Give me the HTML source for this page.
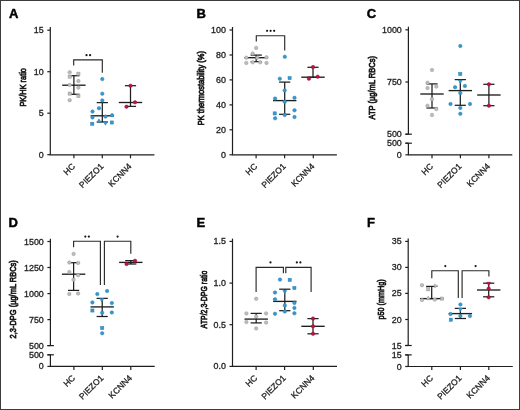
<!DOCTYPE html>
<html><head><meta charset="utf-8"><style>
html,body{margin:0;padding:0;background:#fff;}
#fig{position:relative;width:520px;height:410px;overflow:hidden;background:#fff;}
#fig svg{position:absolute;left:0;top:0;will-change:transform;}
#fig text{font-family:"Liberation Sans", sans-serif;}
</style></head><body>
<div id="fig">
<svg width="520" height="410" viewBox="0 0 520 410">
<rect x="0.5" y="0.5" width="519" height="409" fill="#fff" stroke="#3c3c3c" stroke-width="1"/>
<text x="9.00" y="18.40" font-size="13.0" text-anchor="start" font-weight="bold" fill="#000" stroke="#000" stroke-width="0.45" >A</text>
<line x1="50.30" y1="27.00" x2="50.30" y2="154.80" stroke="#1e1e1e" stroke-width="1.2"/>
<line x1="49.80" y1="154.80" x2="154.40" y2="154.80" stroke="#1e1e1e" stroke-width="1.2"/>
<line x1="47.30" y1="30.20" x2="50.30" y2="30.20" stroke="#1e1e1e" stroke-width="1.2"/>
<text x="43.70" y="33.25" font-size="8.9" text-anchor="end" font-weight="normal" fill="#222" stroke="#222" stroke-width="0.3" >15</text>
<line x1="47.30" y1="71.70" x2="50.30" y2="71.70" stroke="#1e1e1e" stroke-width="1.2"/>
<text x="43.70" y="74.75" font-size="8.9" text-anchor="end" font-weight="normal" fill="#222" stroke="#222" stroke-width="0.3" >10</text>
<line x1="47.30" y1="113.20" x2="50.30" y2="113.20" stroke="#1e1e1e" stroke-width="1.2"/>
<text x="43.70" y="116.25" font-size="8.9" text-anchor="end" font-weight="normal" fill="#222" stroke="#222" stroke-width="0.3" >5</text>
<line x1="47.30" y1="154.70" x2="50.30" y2="154.70" stroke="#1e1e1e" stroke-width="1.2"/>
<text x="43.70" y="157.75" font-size="8.9" text-anchor="end" font-weight="normal" fill="#222" stroke="#222" stroke-width="0.3" >0</text>
<line x1="73.90" y1="154.80" x2="73.90" y2="158.30" stroke="#1e1e1e" stroke-width="1.2"/>
<text x="75.60" y="167.00" font-size="8.5" text-anchor="end" font-weight="normal" fill="#222" stroke="#222" stroke-width="0.3" transform="rotate(-45 75.60 167.00)">HC</text>
<line x1="102.30" y1="154.80" x2="102.30" y2="158.30" stroke="#1e1e1e" stroke-width="1.2"/>
<text x="104.00" y="167.00" font-size="8.5" text-anchor="end" font-weight="normal" fill="#222" stroke="#222" stroke-width="0.3" transform="rotate(-45 104.00 167.00)">PIEZO1</text>
<line x1="130.50" y1="154.80" x2="130.50" y2="158.30" stroke="#1e1e1e" stroke-width="1.2"/>
<text x="132.20" y="167.00" font-size="8.5" text-anchor="end" font-weight="normal" fill="#222" stroke="#222" stroke-width="0.3" transform="rotate(-45 132.20 167.00)">KCNN4</text>
<text x="0" y="0" font-size="9.8" font-weight="normal" fill="#1a1a1a" stroke="#1a1a1a" stroke-width="0.75" text-anchor="middle" textLength="38.5" lengthAdjust="spacingAndGlyphs" transform="translate(26.30 87.30) rotate(-90)">PK/HK ratio</text>
<path d="M73.70,65.50 L73.70,59.90 L102.30,59.90 L102.30,72.80" fill="none" stroke="#2a2a2a" stroke-width="1.15"/>
<circle cx="86.52" cy="55.20" r="1.1" fill="#151515"/>
<circle cx="90.07" cy="55.20" r="1.1" fill="#151515"/>
<line x1="73.90" y1="75.70" x2="73.90" y2="94.30" stroke="#1e1e1e" stroke-width="1.25"/>
<line x1="68.30" y1="75.70" x2="79.50" y2="75.70" stroke="#1e1e1e" stroke-width="1.25"/>
<line x1="68.30" y1="94.30" x2="79.50" y2="94.30" stroke="#1e1e1e" stroke-width="1.25"/>
<line x1="62.20" y1="85.20" x2="85.60" y2="85.20" stroke="#1e1e1e" stroke-width="1.35"/>
<circle cx="69.70" cy="72.30" r="1.75" fill="#bdbdbd" stroke="#969696" stroke-width="0.5"/>
<rect x="76.83" y="72.12" width="3.15" height="3.15" fill="#bdbdbd" stroke="#969696" stroke-width="0.5"/>
<rect x="68.12" y="75.02" width="3.15" height="3.15" fill="#bdbdbd" stroke="#969696" stroke-width="0.5"/>
<circle cx="78.40" cy="81.00" r="1.75" fill="#bdbdbd" stroke="#969696" stroke-width="0.5"/>
<circle cx="69.70" cy="84.90" r="1.75" fill="#bdbdbd" stroke="#969696" stroke-width="0.5"/>
<circle cx="78.40" cy="87.60" r="1.75" fill="#bdbdbd" stroke="#969696" stroke-width="0.5"/>
<rect x="68.12" y="92.02" width="3.15" height="3.15" fill="#bdbdbd" stroke="#969696" stroke-width="0.5"/>
<rect x="76.83" y="94.42" width="3.15" height="3.15" fill="#bdbdbd" stroke="#969696" stroke-width="0.5"/>
<circle cx="69.70" cy="100.20" r="1.75" fill="#bdbdbd" stroke="#969696" stroke-width="0.5"/>
<line x1="102.30" y1="102.60" x2="102.30" y2="122.00" stroke="#1e1e1e" stroke-width="1.25"/>
<line x1="96.70" y1="102.60" x2="107.90" y2="102.60" stroke="#1e1e1e" stroke-width="1.25"/>
<line x1="96.70" y1="122.00" x2="107.90" y2="122.00" stroke="#1e1e1e" stroke-width="1.25"/>
<line x1="90.60" y1="115.80" x2="114.00" y2="115.80" stroke="#1e1e1e" stroke-width="1.35"/>
<circle cx="102.30" cy="79.10" r="1.75" fill="#3399d0" stroke="#2a80b2" stroke-width="0.5"/>
<circle cx="102.30" cy="93.70" r="1.75" fill="#3399d0" stroke="#2a80b2" stroke-width="0.5"/>
<circle cx="102.30" cy="100.40" r="1.75" fill="#3399d0" stroke="#2a80b2" stroke-width="0.5"/>
<circle cx="99.00" cy="108.20" r="1.75" fill="#3399d0" stroke="#2a80b2" stroke-width="0.5"/>
<circle cx="92.50" cy="111.60" r="1.75" fill="#3399d0" stroke="#2a80b2" stroke-width="0.5"/>
<circle cx="92.50" cy="117.40" r="1.75" fill="#3399d0" stroke="#2a80b2" stroke-width="0.5"/>
<circle cx="105.50" cy="116.60" r="1.75" fill="#3399d0" stroke="#2a80b2" stroke-width="0.5"/>
<circle cx="112.10" cy="115.20" r="1.75" fill="#3399d0" stroke="#2a80b2" stroke-width="0.5"/>
<path d="M96.99,122.31 L101.01,122.31 L99.00,118.79 Z" fill="#3399d0" stroke="#2a80b2" stroke-width="0.5"/>
<path d="M103.49,121.79 L107.51,121.79 L105.50,125.31 Z" fill="#3399d0" stroke="#2a80b2" stroke-width="0.5"/>
<rect x="90.72" y="122.22" width="3.15" height="3.15" fill="#3399d0" stroke="#2a80b2" stroke-width="0.5"/>
<rect x="110.22" y="120.92" width="3.15" height="3.15" fill="#3399d0" stroke="#2a80b2" stroke-width="0.5"/>
<line x1="130.50" y1="85.70" x2="130.50" y2="106.40" stroke="#1e1e1e" stroke-width="1.25"/>
<line x1="124.90" y1="85.70" x2="136.10" y2="85.70" stroke="#1e1e1e" stroke-width="1.25"/>
<line x1="124.90" y1="106.40" x2="136.10" y2="106.40" stroke="#1e1e1e" stroke-width="1.25"/>
<line x1="118.80" y1="102.50" x2="142.20" y2="102.50" stroke="#1e1e1e" stroke-width="1.35"/>
<circle cx="130.50" cy="85.70" r="1.75" fill="#bf1240" stroke="#9a0e33" stroke-width="0.5"/>
<circle cx="135.00" cy="102.30" r="1.75" fill="#bf1240" stroke="#9a0e33" stroke-width="0.5"/>
<circle cx="126.50" cy="106.70" r="1.75" fill="#bf1240" stroke="#9a0e33" stroke-width="0.5"/>
<text x="196.60" y="18.20" font-size="13.0" text-anchor="start" font-weight="bold" fill="#000" stroke="#000" stroke-width="0.45" >B</text>
<line x1="232.50" y1="27.00" x2="232.50" y2="154.80" stroke="#1e1e1e" stroke-width="1.2"/>
<line x1="232.00" y1="154.80" x2="336.90" y2="154.80" stroke="#1e1e1e" stroke-width="1.2"/>
<line x1="229.50" y1="30.00" x2="232.50" y2="30.00" stroke="#1e1e1e" stroke-width="1.2"/>
<text x="225.90" y="33.05" font-size="8.9" text-anchor="end" font-weight="normal" fill="#222" stroke="#222" stroke-width="0.3" >100</text>
<line x1="229.50" y1="55.00" x2="232.50" y2="55.00" stroke="#1e1e1e" stroke-width="1.2"/>
<text x="225.90" y="58.05" font-size="8.9" text-anchor="end" font-weight="normal" fill="#222" stroke="#222" stroke-width="0.3" >80</text>
<line x1="229.50" y1="79.90" x2="232.50" y2="79.90" stroke="#1e1e1e" stroke-width="1.2"/>
<text x="225.90" y="82.95" font-size="8.9" text-anchor="end" font-weight="normal" fill="#222" stroke="#222" stroke-width="0.3" >60</text>
<line x1="229.50" y1="104.90" x2="232.50" y2="104.90" stroke="#1e1e1e" stroke-width="1.2"/>
<text x="225.90" y="107.95" font-size="8.9" text-anchor="end" font-weight="normal" fill="#222" stroke="#222" stroke-width="0.3" >40</text>
<line x1="229.50" y1="129.80" x2="232.50" y2="129.80" stroke="#1e1e1e" stroke-width="1.2"/>
<text x="225.90" y="132.85" font-size="8.9" text-anchor="end" font-weight="normal" fill="#222" stroke="#222" stroke-width="0.3" >20</text>
<line x1="229.50" y1="154.80" x2="232.50" y2="154.80" stroke="#1e1e1e" stroke-width="1.2"/>
<text x="225.90" y="157.85" font-size="8.9" text-anchor="end" font-weight="normal" fill="#222" stroke="#222" stroke-width="0.3" >0</text>
<line x1="256.10" y1="154.80" x2="256.10" y2="158.30" stroke="#1e1e1e" stroke-width="1.2"/>
<text x="257.80" y="167.00" font-size="8.5" text-anchor="end" font-weight="normal" fill="#222" stroke="#222" stroke-width="0.3" transform="rotate(-45 257.80 167.00)">HC</text>
<line x1="284.60" y1="154.80" x2="284.60" y2="158.30" stroke="#1e1e1e" stroke-width="1.2"/>
<text x="286.30" y="167.00" font-size="8.5" text-anchor="end" font-weight="normal" fill="#222" stroke="#222" stroke-width="0.3" transform="rotate(-45 286.30 167.00)">PIEZO1</text>
<line x1="313.30" y1="154.80" x2="313.30" y2="158.30" stroke="#1e1e1e" stroke-width="1.2"/>
<text x="315.00" y="167.00" font-size="8.5" text-anchor="end" font-weight="normal" fill="#222" stroke="#222" stroke-width="0.3" transform="rotate(-45 315.00 167.00)">KCNN4</text>
<text x="0" y="0" font-size="9.8" font-weight="normal" fill="#1a1a1a" stroke="#1a1a1a" stroke-width="0.75" text-anchor="middle" textLength="74.2" lengthAdjust="spacingAndGlyphs" transform="translate(204.20 88.20) rotate(-90)">PK thermostability (%)</text>
<path d="M256.30,41.50 L256.30,35.70 L284.70,35.70 L284.70,50.50" fill="none" stroke="#2a2a2a" stroke-width="1.15"/>
<circle cx="267.05" cy="30.80" r="1.1" fill="#151515"/>
<circle cx="270.60" cy="30.80" r="1.1" fill="#151515"/>
<circle cx="274.15" cy="30.80" r="1.1" fill="#151515"/>
<line x1="256.20" y1="55.10" x2="256.20" y2="61.70" stroke="#1e1e1e" stroke-width="1.25"/>
<line x1="250.60" y1="55.10" x2="261.80" y2="55.10" stroke="#1e1e1e" stroke-width="1.25"/>
<line x1="250.60" y1="61.70" x2="261.80" y2="61.70" stroke="#1e1e1e" stroke-width="1.25"/>
<line x1="244.50" y1="57.70" x2="267.90" y2="57.70" stroke="#1e1e1e" stroke-width="1.35"/>
<circle cx="256.20" cy="47.90" r="1.75" fill="#bdbdbd" stroke="#969696" stroke-width="0.5"/>
<circle cx="252.70" cy="53.60" r="1.75" fill="#bdbdbd" stroke="#969696" stroke-width="0.5"/>
<circle cx="246.30" cy="57.70" r="1.75" fill="#bdbdbd" stroke="#969696" stroke-width="0.5"/>
<circle cx="266.50" cy="57.30" r="1.75" fill="#bdbdbd" stroke="#969696" stroke-width="0.5"/>
<circle cx="246.30" cy="62.90" r="1.75" fill="#bdbdbd" stroke="#969696" stroke-width="0.5"/>
<circle cx="252.70" cy="62.30" r="1.75" fill="#bdbdbd" stroke="#969696" stroke-width="0.5"/>
<circle cx="260.20" cy="62.30" r="1.75" fill="#bdbdbd" stroke="#969696" stroke-width="0.5"/>
<circle cx="266.50" cy="62.90" r="1.75" fill="#bdbdbd" stroke="#969696" stroke-width="0.5"/>
<circle cx="257.30" cy="57.70" r="1.75" fill="#bdbdbd" stroke="#969696" stroke-width="0.5"/>
<line x1="284.70" y1="82.10" x2="284.70" y2="114.30" stroke="#1e1e1e" stroke-width="1.25"/>
<line x1="279.10" y1="82.10" x2="290.30" y2="82.10" stroke="#1e1e1e" stroke-width="1.25"/>
<line x1="279.10" y1="114.30" x2="290.30" y2="114.30" stroke="#1e1e1e" stroke-width="1.25"/>
<line x1="273.00" y1="100.60" x2="296.40" y2="100.60" stroke="#1e1e1e" stroke-width="1.35"/>
<circle cx="284.80" cy="56.80" r="1.75" fill="#3399d0" stroke="#2a80b2" stroke-width="0.5"/>
<circle cx="279.80" cy="78.70" r="1.75" fill="#3399d0" stroke="#2a80b2" stroke-width="0.5"/>
<rect x="288.03" y="76.52" width="3.15" height="3.15" fill="#3399d0" stroke="#2a80b2" stroke-width="0.5"/>
<circle cx="284.70" cy="90.40" r="1.75" fill="#3399d0" stroke="#2a80b2" stroke-width="0.5"/>
<circle cx="275.10" cy="98.60" r="1.75" fill="#3399d0" stroke="#2a80b2" stroke-width="0.5"/>
<circle cx="294.50" cy="97.80" r="1.75" fill="#3399d0" stroke="#2a80b2" stroke-width="0.5"/>
<circle cx="284.70" cy="101.80" r="1.75" fill="#3399d0" stroke="#2a80b2" stroke-width="0.5"/>
<rect x="273.12" y="111.83" width="3.15" height="3.15" fill="#3399d0" stroke="#2a80b2" stroke-width="0.5"/>
<circle cx="275.10" cy="118.30" r="1.75" fill="#3399d0" stroke="#2a80b2" stroke-width="0.5"/>
<circle cx="284.70" cy="115.00" r="1.75" fill="#3399d0" stroke="#2a80b2" stroke-width="0.5"/>
<circle cx="294.50" cy="110.30" r="1.75" fill="#3399d0" stroke="#2a80b2" stroke-width="0.5"/>
<circle cx="294.50" cy="117.00" r="1.75" fill="#3399d0" stroke="#2a80b2" stroke-width="0.5"/>
<line x1="313.00" y1="67.30" x2="313.00" y2="77.20" stroke="#1e1e1e" stroke-width="1.25"/>
<line x1="307.40" y1="67.30" x2="318.60" y2="67.30" stroke="#1e1e1e" stroke-width="1.25"/>
<line x1="307.40" y1="77.20" x2="318.60" y2="77.20" stroke="#1e1e1e" stroke-width="1.25"/>
<line x1="301.30" y1="77.20" x2="324.70" y2="77.20" stroke="#1e1e1e" stroke-width="1.35"/>
<circle cx="313.00" cy="67.10" r="1.75" fill="#bf1240" stroke="#9a0e33" stroke-width="0.5"/>
<circle cx="308.90" cy="78.70" r="1.75" fill="#bf1240" stroke="#9a0e33" stroke-width="0.5"/>
<circle cx="317.70" cy="76.70" r="1.75" fill="#bf1240" stroke="#9a0e33" stroke-width="0.5"/>
<text x="366.80" y="18.20" font-size="13.0" text-anchor="start" font-weight="bold" fill="#000" stroke="#000" stroke-width="0.45" >C</text>
<line x1="408.40" y1="26.80" x2="408.40" y2="134.20" stroke="#1e1e1e" stroke-width="1.2"/>
<line x1="405.40" y1="134.20" x2="411.90" y2="134.20" stroke="#1e1e1e" stroke-width="1.2"/>
<line x1="408.40" y1="143.20" x2="408.40" y2="154.80" stroke="#1e1e1e" stroke-width="1.2"/>
<line x1="405.40" y1="143.20" x2="411.90" y2="143.20" stroke="#1e1e1e" stroke-width="1.2"/>
<line x1="407.90" y1="154.80" x2="512.30" y2="154.80" stroke="#1e1e1e" stroke-width="1.2"/>
<line x1="405.40" y1="29.80" x2="408.40" y2="29.80" stroke="#1e1e1e" stroke-width="1.2"/>
<text x="401.80" y="32.85" font-size="8.9" text-anchor="end" font-weight="normal" fill="#222" stroke="#222" stroke-width="0.3" >1000</text>
<line x1="405.40" y1="82.00" x2="408.40" y2="82.00" stroke="#1e1e1e" stroke-width="1.2"/>
<text x="401.80" y="85.05" font-size="8.9" text-anchor="end" font-weight="normal" fill="#222" stroke="#222" stroke-width="0.3" >750</text>
<line x1="405.40" y1="134.20" x2="408.40" y2="134.20" stroke="#1e1e1e" stroke-width="1.2"/>
<text x="401.80" y="137.25" font-size="8.9" text-anchor="end" font-weight="normal" fill="#222" stroke="#222" stroke-width="0.3" >500</text>
<line x1="405.40" y1="143.20" x2="408.40" y2="143.20" stroke="#1e1e1e" stroke-width="1.2"/>
<text x="401.80" y="146.25" font-size="8.9" text-anchor="end" font-weight="normal" fill="#222" stroke="#222" stroke-width="0.3" >500</text>
<line x1="405.40" y1="154.80" x2="408.40" y2="154.80" stroke="#1e1e1e" stroke-width="1.2"/>
<text x="401.80" y="157.85" font-size="8.9" text-anchor="end" font-weight="normal" fill="#222" stroke="#222" stroke-width="0.3" >0</text>
<line x1="432.00" y1="154.80" x2="432.00" y2="158.30" stroke="#1e1e1e" stroke-width="1.2"/>
<text x="433.70" y="167.00" font-size="8.5" text-anchor="end" font-weight="normal" fill="#222" stroke="#222" stroke-width="0.3" transform="rotate(-45 433.70 167.00)">HC</text>
<line x1="460.40" y1="154.80" x2="460.40" y2="158.30" stroke="#1e1e1e" stroke-width="1.2"/>
<text x="462.10" y="167.00" font-size="8.5" text-anchor="end" font-weight="normal" fill="#222" stroke="#222" stroke-width="0.3" transform="rotate(-45 462.10 167.00)">PIEZO1</text>
<line x1="488.90" y1="154.80" x2="488.90" y2="158.30" stroke="#1e1e1e" stroke-width="1.2"/>
<text x="490.60" y="167.00" font-size="8.5" text-anchor="end" font-weight="normal" fill="#222" stroke="#222" stroke-width="0.3" transform="rotate(-45 490.60 167.00)">KCNN4</text>
<text x="0" y="0" font-size="9.8" font-weight="normal" fill="#1a1a1a" stroke="#1a1a1a" stroke-width="0.75" text-anchor="middle" textLength="63.5" lengthAdjust="spacingAndGlyphs" transform="translate(374.80 87.75) rotate(-90)">ATP (µg/mL RBCs)</text>
<line x1="432.00" y1="83.90" x2="432.00" y2="108.00" stroke="#1e1e1e" stroke-width="1.25"/>
<line x1="426.40" y1="83.90" x2="437.60" y2="83.90" stroke="#1e1e1e" stroke-width="1.25"/>
<line x1="426.40" y1="108.00" x2="437.60" y2="108.00" stroke="#1e1e1e" stroke-width="1.25"/>
<line x1="420.30" y1="94.00" x2="443.70" y2="94.00" stroke="#1e1e1e" stroke-width="1.35"/>
<circle cx="432.00" cy="70.00" r="1.75" fill="#bdbdbd" stroke="#969696" stroke-width="0.5"/>
<circle cx="427.50" cy="82.70" r="1.75" fill="#bdbdbd" stroke="#969696" stroke-width="0.5"/>
<circle cx="427.50" cy="88.10" r="1.75" fill="#bdbdbd" stroke="#969696" stroke-width="0.5"/>
<circle cx="436.30" cy="86.60" r="1.75" fill="#bdbdbd" stroke="#969696" stroke-width="0.5"/>
<circle cx="432.00" cy="99.20" r="1.75" fill="#bdbdbd" stroke="#969696" stroke-width="0.5"/>
<circle cx="427.50" cy="105.70" r="1.75" fill="#bdbdbd" stroke="#969696" stroke-width="0.5"/>
<circle cx="436.30" cy="109.00" r="1.75" fill="#bdbdbd" stroke="#969696" stroke-width="0.5"/>
<circle cx="432.00" cy="114.90" r="1.75" fill="#bdbdbd" stroke="#969696" stroke-width="0.5"/>
<line x1="460.30" y1="79.60" x2="460.30" y2="105.30" stroke="#1e1e1e" stroke-width="1.25"/>
<line x1="454.70" y1="79.60" x2="465.90" y2="79.60" stroke="#1e1e1e" stroke-width="1.25"/>
<line x1="454.70" y1="105.30" x2="465.90" y2="105.30" stroke="#1e1e1e" stroke-width="1.25"/>
<line x1="448.60" y1="90.60" x2="472.00" y2="90.60" stroke="#1e1e1e" stroke-width="1.35"/>
<circle cx="460.30" cy="46.00" r="1.75" fill="#3399d0" stroke="#2a80b2" stroke-width="0.5"/>
<rect x="458.73" y="72.42" width="3.15" height="3.15" fill="#3399d0" stroke="#2a80b2" stroke-width="0.5"/>
<path d="M458.29,79.99 L462.31,79.99 L460.30,83.51 Z" fill="#3399d0" stroke="#2a80b2" stroke-width="0.5"/>
<circle cx="455.10" cy="87.20" r="1.75" fill="#3399d0" stroke="#2a80b2" stroke-width="0.5"/>
<circle cx="464.90" cy="86.00" r="1.75" fill="#3399d0" stroke="#2a80b2" stroke-width="0.5"/>
<circle cx="460.30" cy="93.10" r="1.75" fill="#3399d0" stroke="#2a80b2" stroke-width="0.5"/>
<circle cx="450.50" cy="104.00" r="1.75" fill="#3399d0" stroke="#2a80b2" stroke-width="0.5"/>
<circle cx="470.00" cy="104.00" r="1.75" fill="#3399d0" stroke="#2a80b2" stroke-width="0.5"/>
<circle cx="460.30" cy="107.90" r="1.75" fill="#3399d0" stroke="#2a80b2" stroke-width="0.5"/>
<circle cx="460.30" cy="113.80" r="1.75" fill="#3399d0" stroke="#2a80b2" stroke-width="0.5"/>
<line x1="488.90" y1="84.30" x2="488.90" y2="105.70" stroke="#1e1e1e" stroke-width="1.25"/>
<line x1="483.30" y1="84.30" x2="494.50" y2="84.30" stroke="#1e1e1e" stroke-width="1.25"/>
<line x1="483.30" y1="105.70" x2="494.50" y2="105.70" stroke="#1e1e1e" stroke-width="1.25"/>
<line x1="477.20" y1="95.00" x2="500.60" y2="95.00" stroke="#1e1e1e" stroke-width="1.35"/>
<circle cx="488.90" cy="84.30" r="1.75" fill="#bf1240" stroke="#9a0e33" stroke-width="0.5"/>
<circle cx="488.90" cy="105.70" r="1.75" fill="#bf1240" stroke="#9a0e33" stroke-width="0.5"/>
<text x="8.40" y="227.30" font-size="13.0" text-anchor="start" font-weight="bold" fill="#000" stroke="#000" stroke-width="0.45" >D</text>
<line x1="50.40" y1="238.80" x2="50.40" y2="345.60" stroke="#1e1e1e" stroke-width="1.2"/>
<line x1="47.40" y1="345.60" x2="53.90" y2="345.60" stroke="#1e1e1e" stroke-width="1.2"/>
<line x1="50.40" y1="354.80" x2="50.40" y2="366.40" stroke="#1e1e1e" stroke-width="1.2"/>
<line x1="47.40" y1="354.80" x2="53.90" y2="354.80" stroke="#1e1e1e" stroke-width="1.2"/>
<line x1="49.90" y1="366.40" x2="154.70" y2="366.40" stroke="#1e1e1e" stroke-width="1.2"/>
<line x1="47.40" y1="241.50" x2="50.40" y2="241.50" stroke="#1e1e1e" stroke-width="1.2"/>
<text x="43.80" y="244.55" font-size="8.9" text-anchor="end" font-weight="normal" fill="#222" stroke="#222" stroke-width="0.3" >1500</text>
<line x1="47.40" y1="267.50" x2="50.40" y2="267.50" stroke="#1e1e1e" stroke-width="1.2"/>
<text x="43.80" y="270.55" font-size="8.9" text-anchor="end" font-weight="normal" fill="#222" stroke="#222" stroke-width="0.3" >1250</text>
<line x1="47.40" y1="293.60" x2="50.40" y2="293.60" stroke="#1e1e1e" stroke-width="1.2"/>
<text x="43.80" y="296.65" font-size="8.9" text-anchor="end" font-weight="normal" fill="#222" stroke="#222" stroke-width="0.3" >1000</text>
<line x1="47.40" y1="319.60" x2="50.40" y2="319.60" stroke="#1e1e1e" stroke-width="1.2"/>
<text x="43.80" y="322.65" font-size="8.9" text-anchor="end" font-weight="normal" fill="#222" stroke="#222" stroke-width="0.3" >750</text>
<line x1="47.40" y1="345.60" x2="50.40" y2="345.60" stroke="#1e1e1e" stroke-width="1.2"/>
<text x="43.80" y="348.65" font-size="8.9" text-anchor="end" font-weight="normal" fill="#222" stroke="#222" stroke-width="0.3" >500</text>
<line x1="47.40" y1="354.80" x2="50.40" y2="354.80" stroke="#1e1e1e" stroke-width="1.2"/>
<text x="43.80" y="357.85" font-size="8.9" text-anchor="end" font-weight="normal" fill="#222" stroke="#222" stroke-width="0.3" >500</text>
<line x1="47.40" y1="366.40" x2="50.40" y2="366.40" stroke="#1e1e1e" stroke-width="1.2"/>
<text x="43.80" y="369.45" font-size="8.9" text-anchor="end" font-weight="normal" fill="#222" stroke="#222" stroke-width="0.3" >0</text>
<line x1="73.90" y1="366.40" x2="73.90" y2="369.90" stroke="#1e1e1e" stroke-width="1.2"/>
<text x="75.60" y="378.60" font-size="8.5" text-anchor="end" font-weight="normal" fill="#222" stroke="#222" stroke-width="0.3" transform="rotate(-45 75.60 378.60)">HC</text>
<line x1="102.30" y1="366.40" x2="102.30" y2="369.90" stroke="#1e1e1e" stroke-width="1.2"/>
<text x="104.00" y="378.60" font-size="8.5" text-anchor="end" font-weight="normal" fill="#222" stroke="#222" stroke-width="0.3" transform="rotate(-45 104.00 378.60)">PIEZO1</text>
<line x1="130.80" y1="366.40" x2="130.80" y2="369.90" stroke="#1e1e1e" stroke-width="1.2"/>
<text x="132.50" y="378.60" font-size="8.5" text-anchor="end" font-weight="normal" fill="#222" stroke="#222" stroke-width="0.3" transform="rotate(-45 132.50 378.60)">KCNN4</text>
<text x="0" y="0" font-size="9.8" font-weight="normal" fill="#1a1a1a" stroke="#1a1a1a" stroke-width="0.75" text-anchor="middle" textLength="78.2" lengthAdjust="spacingAndGlyphs" transform="translate(16.00 299.30) rotate(-90)">2,3-DPG (µg/mL RBCs)</text>
<path d="M73.60,247.30 L73.60,241.20 L100.40,241.20 L100.40,285.10" fill="none" stroke="#2a2a2a" stroke-width="1.15"/>
<path d="M104.40,285.10 L104.40,241.20 L130.80,241.20 L130.80,253.80" fill="none" stroke="#2a2a2a" stroke-width="1.15"/>
<circle cx="85.32" cy="236.60" r="1.1" fill="#151515"/>
<circle cx="88.87" cy="236.60" r="1.1" fill="#151515"/>
<circle cx="117.60" cy="236.60" r="1.1" fill="#151515"/>
<line x1="73.60" y1="262.70" x2="73.60" y2="290.40" stroke="#1e1e1e" stroke-width="1.25"/>
<line x1="68.00" y1="262.70" x2="79.20" y2="262.70" stroke="#1e1e1e" stroke-width="1.25"/>
<line x1="68.00" y1="290.40" x2="79.20" y2="290.40" stroke="#1e1e1e" stroke-width="1.25"/>
<line x1="61.90" y1="274.20" x2="85.30" y2="274.20" stroke="#1e1e1e" stroke-width="1.35"/>
<circle cx="73.60" cy="253.90" r="1.75" fill="#bdbdbd" stroke="#969696" stroke-width="0.5"/>
<circle cx="69.30" cy="262.50" r="1.75" fill="#bdbdbd" stroke="#969696" stroke-width="0.5"/>
<circle cx="78.10" cy="262.90" r="1.75" fill="#bdbdbd" stroke="#969696" stroke-width="0.5"/>
<circle cx="69.30" cy="272.00" r="1.75" fill="#bdbdbd" stroke="#969696" stroke-width="0.5"/>
<circle cx="78.10" cy="275.30" r="1.75" fill="#bdbdbd" stroke="#969696" stroke-width="0.5"/>
<circle cx="73.50" cy="279.70" r="1.75" fill="#bdbdbd" stroke="#969696" stroke-width="0.5"/>
<circle cx="69.30" cy="294.00" r="1.75" fill="#bdbdbd" stroke="#969696" stroke-width="0.5"/>
<circle cx="78.10" cy="293.50" r="1.75" fill="#bdbdbd" stroke="#969696" stroke-width="0.5"/>
<line x1="102.20" y1="298.40" x2="102.20" y2="316.50" stroke="#1e1e1e" stroke-width="1.25"/>
<line x1="96.60" y1="298.40" x2="107.80" y2="298.40" stroke="#1e1e1e" stroke-width="1.25"/>
<line x1="96.60" y1="316.50" x2="107.80" y2="316.50" stroke="#1e1e1e" stroke-width="1.25"/>
<line x1="90.50" y1="306.90" x2="113.90" y2="306.90" stroke="#1e1e1e" stroke-width="1.35"/>
<circle cx="97.30" cy="294.10" r="1.75" fill="#3399d0" stroke="#2a80b2" stroke-width="0.5"/>
<circle cx="107.10" cy="291.00" r="1.75" fill="#3399d0" stroke="#2a80b2" stroke-width="0.5"/>
<path d="M99.79,298.49 L103.81,298.49 L101.80,302.01 Z" fill="#3399d0" stroke="#2a80b2" stroke-width="0.5"/>
<circle cx="92.40" cy="302.40" r="1.75" fill="#3399d0" stroke="#2a80b2" stroke-width="0.5"/>
<circle cx="111.80" cy="303.10" r="1.75" fill="#3399d0" stroke="#2a80b2" stroke-width="0.5"/>
<rect x="90.83" y="308.93" width="3.15" height="3.15" fill="#3399d0" stroke="#2a80b2" stroke-width="0.5"/>
<circle cx="102.20" cy="312.80" r="1.75" fill="#3399d0" stroke="#2a80b2" stroke-width="0.5"/>
<circle cx="111.80" cy="312.50" r="1.75" fill="#3399d0" stroke="#2a80b2" stroke-width="0.5"/>
<rect x="100.62" y="326.43" width="3.15" height="3.15" fill="#3399d0" stroke="#2a80b2" stroke-width="0.5"/>
<circle cx="102.20" cy="333.30" r="1.75" fill="#3399d0" stroke="#2a80b2" stroke-width="0.5"/>
<line x1="130.80" y1="260.60" x2="130.80" y2="264.00" stroke="#1e1e1e" stroke-width="1.25"/>
<line x1="125.20" y1="260.60" x2="136.40" y2="260.60" stroke="#1e1e1e" stroke-width="1.25"/>
<line x1="125.20" y1="264.00" x2="136.40" y2="264.00" stroke="#1e1e1e" stroke-width="1.25"/>
<line x1="119.10" y1="262.40" x2="142.50" y2="262.40" stroke="#1e1e1e" stroke-width="1.35"/>
<circle cx="126.50" cy="264.00" r="1.75" fill="#bf1240" stroke="#9a0e33" stroke-width="0.5"/>
<circle cx="135.00" cy="260.80" r="1.75" fill="#bf1240" stroke="#9a0e33" stroke-width="0.5"/>
<text x="196.60" y="227.30" font-size="13.0" text-anchor="start" font-weight="bold" fill="#000" stroke="#000" stroke-width="0.45" >E</text>
<line x1="232.50" y1="238.60" x2="232.50" y2="366.40" stroke="#1e1e1e" stroke-width="1.2"/>
<line x1="232.00" y1="366.40" x2="337.00" y2="366.40" stroke="#1e1e1e" stroke-width="1.2"/>
<line x1="229.50" y1="241.40" x2="232.50" y2="241.40" stroke="#1e1e1e" stroke-width="1.2"/>
<text x="225.90" y="244.45" font-size="8.9" text-anchor="end" font-weight="normal" fill="#222" stroke="#222" stroke-width="0.3" >1.5</text>
<line x1="229.50" y1="283.10" x2="232.50" y2="283.10" stroke="#1e1e1e" stroke-width="1.2"/>
<text x="225.90" y="286.15" font-size="8.9" text-anchor="end" font-weight="normal" fill="#222" stroke="#222" stroke-width="0.3" >1.0</text>
<line x1="229.50" y1="324.70" x2="232.50" y2="324.70" stroke="#1e1e1e" stroke-width="1.2"/>
<text x="225.90" y="327.75" font-size="8.9" text-anchor="end" font-weight="normal" fill="#222" stroke="#222" stroke-width="0.3" >0.5</text>
<line x1="229.50" y1="366.40" x2="232.50" y2="366.40" stroke="#1e1e1e" stroke-width="1.2"/>
<text x="225.90" y="369.45" font-size="8.9" text-anchor="end" font-weight="normal" fill="#222" stroke="#222" stroke-width="0.3" >0.0</text>
<line x1="256.10" y1="366.40" x2="256.10" y2="369.90" stroke="#1e1e1e" stroke-width="1.2"/>
<text x="257.80" y="378.60" font-size="8.5" text-anchor="end" font-weight="normal" fill="#222" stroke="#222" stroke-width="0.3" transform="rotate(-45 257.80 378.60)">HC</text>
<line x1="284.60" y1="366.40" x2="284.60" y2="369.90" stroke="#1e1e1e" stroke-width="1.2"/>
<text x="286.30" y="378.60" font-size="8.5" text-anchor="end" font-weight="normal" fill="#222" stroke="#222" stroke-width="0.3" transform="rotate(-45 286.30 378.60)">PIEZO1</text>
<line x1="313.30" y1="366.40" x2="313.30" y2="369.90" stroke="#1e1e1e" stroke-width="1.2"/>
<text x="315.00" y="378.60" font-size="8.5" text-anchor="end" font-weight="normal" fill="#222" stroke="#222" stroke-width="0.3" transform="rotate(-45 315.00 378.60)">KCNN4</text>
<text x="0" y="0" font-size="9.8" font-weight="normal" fill="#1a1a1a" stroke="#1a1a1a" stroke-width="0.75" text-anchor="middle" textLength="57.9" lengthAdjust="spacingAndGlyphs" transform="translate(207.40 299.50) rotate(-90)">ATP/2,3-DPG ratio</text>
<path d="M256.10,292.00 L256.10,267.30 L283.40,267.30 L283.40,273.20" fill="none" stroke="#2a2a2a" stroke-width="1.15"/>
<path d="M285.80,273.20 L285.80,267.30 L311.10,267.30 L311.10,292.00" fill="none" stroke="#2a2a2a" stroke-width="1.15"/>
<circle cx="270.50" cy="262.40" r="1.1" fill="#151515"/>
<circle cx="296.83" cy="262.40" r="1.1" fill="#151515"/>
<circle cx="300.38" cy="262.40" r="1.1" fill="#151515"/>
<line x1="256.20" y1="313.40" x2="256.20" y2="322.90" stroke="#1e1e1e" stroke-width="1.25"/>
<line x1="250.60" y1="313.40" x2="261.80" y2="313.40" stroke="#1e1e1e" stroke-width="1.25"/>
<line x1="250.60" y1="322.90" x2="261.80" y2="322.90" stroke="#1e1e1e" stroke-width="1.25"/>
<line x1="244.50" y1="319.10" x2="267.90" y2="319.10" stroke="#1e1e1e" stroke-width="1.35"/>
<circle cx="256.20" cy="298.80" r="1.75" fill="#bdbdbd" stroke="#969696" stroke-width="0.5"/>
<circle cx="246.40" cy="313.40" r="1.75" fill="#bdbdbd" stroke="#969696" stroke-width="0.5"/>
<circle cx="266.10" cy="313.40" r="1.75" fill="#bdbdbd" stroke="#969696" stroke-width="0.5"/>
<circle cx="246.40" cy="322.00" r="1.75" fill="#bdbdbd" stroke="#969696" stroke-width="0.5"/>
<circle cx="266.10" cy="322.60" r="1.75" fill="#bdbdbd" stroke="#969696" stroke-width="0.5"/>
<circle cx="256.20" cy="328.40" r="1.75" fill="#bdbdbd" stroke="#969696" stroke-width="0.5"/>
<circle cx="256.20" cy="316.50" r="1.75" fill="#bdbdbd" stroke="#969696" stroke-width="0.5"/>
<line x1="284.80" y1="289.20" x2="284.80" y2="310.70" stroke="#1e1e1e" stroke-width="1.25"/>
<line x1="279.20" y1="289.20" x2="290.40" y2="289.20" stroke="#1e1e1e" stroke-width="1.25"/>
<line x1="279.20" y1="310.70" x2="290.40" y2="310.70" stroke="#1e1e1e" stroke-width="1.25"/>
<line x1="273.10" y1="301.40" x2="296.50" y2="301.40" stroke="#1e1e1e" stroke-width="1.35"/>
<circle cx="280.00" cy="279.60" r="1.75" fill="#3399d0" stroke="#2a80b2" stroke-width="0.5"/>
<rect x="288.12" y="278.32" width="3.15" height="3.15" fill="#3399d0" stroke="#2a80b2" stroke-width="0.5"/>
<rect x="292.82" y="286.43" width="3.15" height="3.15" fill="#3399d0" stroke="#2a80b2" stroke-width="0.5"/>
<circle cx="275.00" cy="292.50" r="1.75" fill="#3399d0" stroke="#2a80b2" stroke-width="0.5"/>
<path d="M282.79,290.39 L286.81,290.39 L284.80,293.91 Z" fill="#3399d0" stroke="#2a80b2" stroke-width="0.5"/>
<circle cx="275.00" cy="299.30" r="1.75" fill="#3399d0" stroke="#2a80b2" stroke-width="0.5"/>
<circle cx="294.40" cy="302.90" r="1.75" fill="#3399d0" stroke="#2a80b2" stroke-width="0.5"/>
<circle cx="284.80" cy="305.40" r="1.75" fill="#3399d0" stroke="#2a80b2" stroke-width="0.5"/>
<circle cx="294.40" cy="307.90" r="1.75" fill="#3399d0" stroke="#2a80b2" stroke-width="0.5"/>
<circle cx="284.80" cy="311.50" r="1.75" fill="#3399d0" stroke="#2a80b2" stroke-width="0.5"/>
<circle cx="275.00" cy="313.80" r="1.75" fill="#3399d0" stroke="#2a80b2" stroke-width="0.5"/>
<circle cx="294.40" cy="313.30" r="1.75" fill="#3399d0" stroke="#2a80b2" stroke-width="0.5"/>
<line x1="313.00" y1="318.60" x2="313.00" y2="333.80" stroke="#1e1e1e" stroke-width="1.25"/>
<line x1="307.40" y1="318.60" x2="318.60" y2="318.60" stroke="#1e1e1e" stroke-width="1.25"/>
<line x1="307.40" y1="333.80" x2="318.60" y2="333.80" stroke="#1e1e1e" stroke-width="1.25"/>
<line x1="301.30" y1="326.30" x2="324.70" y2="326.30" stroke="#1e1e1e" stroke-width="1.35"/>
<circle cx="313.00" cy="318.60" r="1.75" fill="#bf1240" stroke="#9a0e33" stroke-width="0.5"/>
<circle cx="313.00" cy="326.30" r="1.75" fill="#bf1240" stroke="#9a0e33" stroke-width="0.5"/>
<circle cx="313.00" cy="333.80" r="1.75" fill="#bf1240" stroke="#9a0e33" stroke-width="0.5"/>
<text x="366.90" y="227.30" font-size="13.0" text-anchor="start" font-weight="bold" fill="#000" stroke="#000" stroke-width="0.45" >F</text>
<line x1="408.20" y1="238.60" x2="408.20" y2="345.50" stroke="#1e1e1e" stroke-width="1.2"/>
<line x1="405.20" y1="345.50" x2="411.70" y2="345.50" stroke="#1e1e1e" stroke-width="1.2"/>
<line x1="408.20" y1="354.90" x2="408.20" y2="366.50" stroke="#1e1e1e" stroke-width="1.2"/>
<line x1="405.20" y1="354.90" x2="411.70" y2="354.90" stroke="#1e1e1e" stroke-width="1.2"/>
<line x1="407.70" y1="366.50" x2="512.80" y2="366.50" stroke="#1e1e1e" stroke-width="1.2"/>
<line x1="405.20" y1="241.40" x2="408.20" y2="241.40" stroke="#1e1e1e" stroke-width="1.2"/>
<text x="401.60" y="244.45" font-size="8.9" text-anchor="end" font-weight="normal" fill="#222" stroke="#222" stroke-width="0.3" >35</text>
<line x1="405.20" y1="267.40" x2="408.20" y2="267.40" stroke="#1e1e1e" stroke-width="1.2"/>
<text x="401.60" y="270.45" font-size="8.9" text-anchor="end" font-weight="normal" fill="#222" stroke="#222" stroke-width="0.3" >30</text>
<line x1="405.20" y1="293.40" x2="408.20" y2="293.40" stroke="#1e1e1e" stroke-width="1.2"/>
<text x="401.60" y="296.45" font-size="8.9" text-anchor="end" font-weight="normal" fill="#222" stroke="#222" stroke-width="0.3" >25</text>
<line x1="405.20" y1="319.50" x2="408.20" y2="319.50" stroke="#1e1e1e" stroke-width="1.2"/>
<text x="401.60" y="322.55" font-size="8.9" text-anchor="end" font-weight="normal" fill="#222" stroke="#222" stroke-width="0.3" >20</text>
<line x1="405.20" y1="345.50" x2="408.20" y2="345.50" stroke="#1e1e1e" stroke-width="1.2"/>
<text x="401.60" y="348.55" font-size="8.9" text-anchor="end" font-weight="normal" fill="#222" stroke="#222" stroke-width="0.3" >15</text>
<line x1="405.20" y1="354.90" x2="408.20" y2="354.90" stroke="#1e1e1e" stroke-width="1.2"/>
<text x="401.60" y="357.95" font-size="8.9" text-anchor="end" font-weight="normal" fill="#222" stroke="#222" stroke-width="0.3" >15</text>
<line x1="405.20" y1="366.50" x2="408.20" y2="366.50" stroke="#1e1e1e" stroke-width="1.2"/>
<text x="401.60" y="369.55" font-size="8.9" text-anchor="end" font-weight="normal" fill="#222" stroke="#222" stroke-width="0.3" >0</text>
<line x1="431.80" y1="366.50" x2="431.80" y2="370.00" stroke="#1e1e1e" stroke-width="1.2"/>
<text x="433.50" y="378.70" font-size="8.5" text-anchor="end" font-weight="normal" fill="#222" stroke="#222" stroke-width="0.3" transform="rotate(-45 433.50 378.70)">HC</text>
<line x1="460.40" y1="366.50" x2="460.40" y2="370.00" stroke="#1e1e1e" stroke-width="1.2"/>
<text x="462.10" y="378.70" font-size="8.5" text-anchor="end" font-weight="normal" fill="#222" stroke="#222" stroke-width="0.3" transform="rotate(-45 462.10 378.70)">PIEZO1</text>
<line x1="488.80" y1="366.50" x2="488.80" y2="370.00" stroke="#1e1e1e" stroke-width="1.2"/>
<text x="490.50" y="378.70" font-size="8.5" text-anchor="end" font-weight="normal" fill="#222" stroke="#222" stroke-width="0.3" transform="rotate(-45 490.50 378.70)">KCNN4</text>
<text x="0" y="0" font-size="9.8" font-weight="normal" fill="#1a1a1a" stroke="#1a1a1a" stroke-width="0.75" text-anchor="middle" textLength="40.0" lengthAdjust="spacingAndGlyphs" transform="translate(384.00 299.40) rotate(-90)">p50 (mmHg)</text>
<path d="M431.80,278.20 L431.80,270.70 L458.30,270.70 L458.30,298.10" fill="none" stroke="#2a2a2a" stroke-width="1.15"/>
<path d="M462.10,298.10 L462.10,270.70 L488.90,270.70 L488.90,276.40" fill="none" stroke="#2a2a2a" stroke-width="1.15"/>
<circle cx="445.30" cy="266.10" r="1.1" fill="#151515"/>
<circle cx="475.60" cy="266.10" r="1.1" fill="#151515"/>
<line x1="431.70" y1="286.40" x2="431.70" y2="298.60" stroke="#1e1e1e" stroke-width="1.25"/>
<line x1="426.10" y1="286.40" x2="437.30" y2="286.40" stroke="#1e1e1e" stroke-width="1.25"/>
<line x1="426.10" y1="298.60" x2="437.30" y2="298.60" stroke="#1e1e1e" stroke-width="1.25"/>
<line x1="420.00" y1="298.60" x2="443.40" y2="298.60" stroke="#1e1e1e" stroke-width="1.35"/>
<circle cx="422.00" cy="285.20" r="1.75" fill="#bdbdbd" stroke="#969696" stroke-width="0.5"/>
<rect x="426.62" y="287.73" width="3.15" height="3.15" fill="#bdbdbd" stroke="#969696" stroke-width="0.5"/>
<path d="M434.39,283.99 L434.39,288.01 L437.91,286.00 Z" fill="#bdbdbd" stroke="#969696" stroke-width="0.5"/>
<circle cx="422.00" cy="300.00" r="1.75" fill="#bdbdbd" stroke="#969696" stroke-width="0.5"/>
<path d="M426.19,299.61 L430.21,299.61 L428.20,296.09 Z" fill="#bdbdbd" stroke="#969696" stroke-width="0.5"/>
<circle cx="434.80" cy="299.60" r="1.75" fill="#bdbdbd" stroke="#969696" stroke-width="0.5"/>
<rect x="440.53" y="297.03" width="3.15" height="3.15" fill="#bdbdbd" stroke="#969696" stroke-width="0.5"/>
<line x1="460.40" y1="308.40" x2="460.40" y2="318.50" stroke="#1e1e1e" stroke-width="1.25"/>
<line x1="454.80" y1="308.40" x2="466.00" y2="308.40" stroke="#1e1e1e" stroke-width="1.25"/>
<line x1="454.80" y1="318.50" x2="466.00" y2="318.50" stroke="#1e1e1e" stroke-width="1.25"/>
<line x1="448.70" y1="313.60" x2="472.10" y2="313.60" stroke="#1e1e1e" stroke-width="1.35"/>
<circle cx="460.40" cy="304.50" r="1.75" fill="#3399d0" stroke="#2a80b2" stroke-width="0.5"/>
<path d="M458.39,308.09 L462.41,308.09 L460.40,311.61 Z" fill="#3399d0" stroke="#2a80b2" stroke-width="0.5"/>
<circle cx="450.50" cy="314.00" r="1.75" fill="#3399d0" stroke="#2a80b2" stroke-width="0.5"/>
<circle cx="460.40" cy="315.90" r="1.75" fill="#3399d0" stroke="#2a80b2" stroke-width="0.5"/>
<circle cx="469.90" cy="316.10" r="1.75" fill="#3399d0" stroke="#2a80b2" stroke-width="0.5"/>
<rect x="449.23" y="318.12" width="3.15" height="3.15" fill="#3399d0" stroke="#2a80b2" stroke-width="0.5"/>
<line x1="488.70" y1="283.20" x2="488.70" y2="296.80" stroke="#1e1e1e" stroke-width="1.25"/>
<line x1="483.10" y1="283.20" x2="494.30" y2="283.20" stroke="#1e1e1e" stroke-width="1.25"/>
<line x1="483.10" y1="296.80" x2="494.30" y2="296.80" stroke="#1e1e1e" stroke-width="1.25"/>
<line x1="477.00" y1="290.00" x2="500.40" y2="290.00" stroke="#1e1e1e" stroke-width="1.35"/>
<path d="M486.69,282.29 L490.71,282.29 L488.70,285.81 Z" fill="#bf1240" stroke="#9a0e33" stroke-width="0.5"/>
<circle cx="488.70" cy="288.50" r="1.75" fill="#bf1240" stroke="#9a0e33" stroke-width="0.5"/>
<circle cx="488.70" cy="297.30" r="1.75" fill="#bf1240" stroke="#9a0e33" stroke-width="0.5"/>
</svg>
</div>
</body></html>
